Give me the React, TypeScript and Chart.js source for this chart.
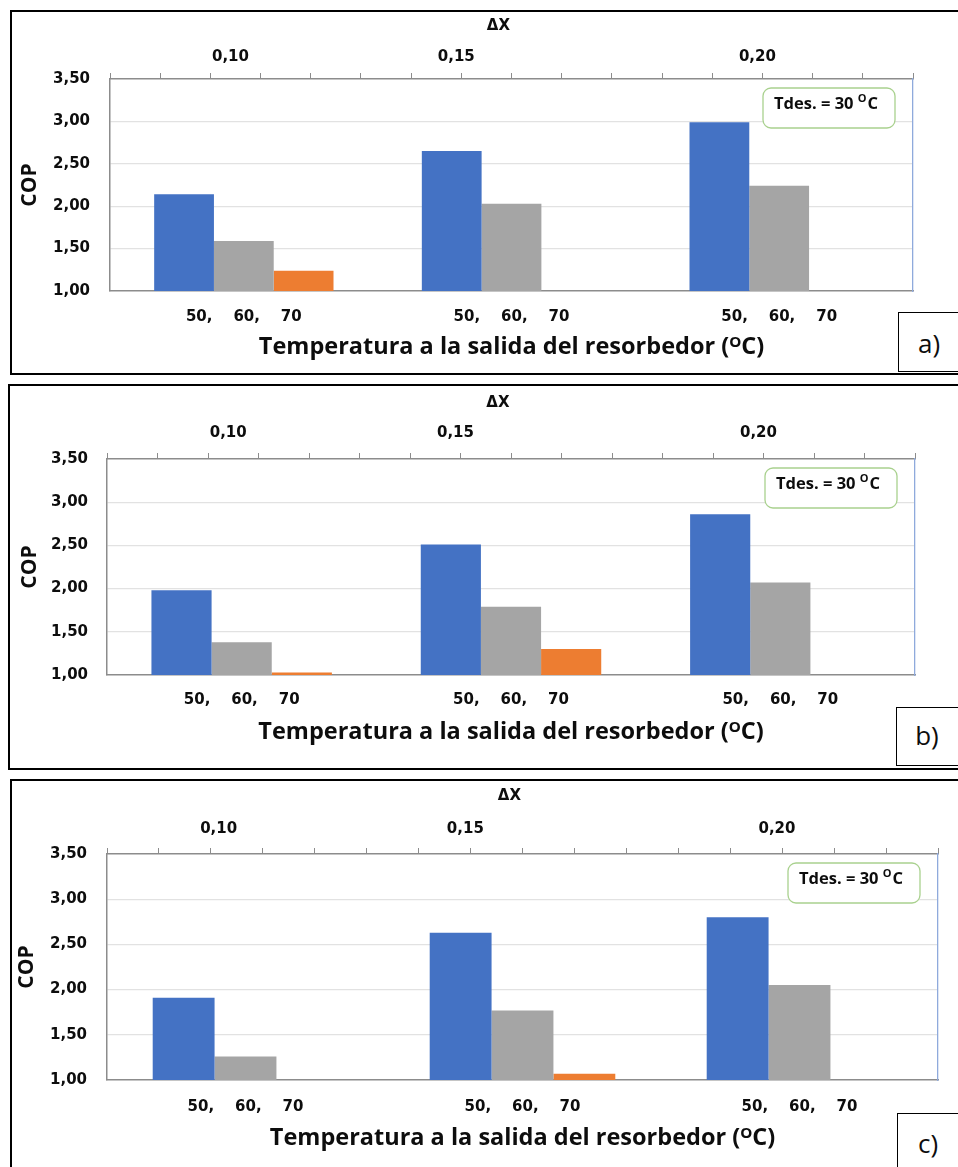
import { useEffect, useRef } from 'react';
import { Chart, registerables } from 'chart.js';

Chart.register(...registerables);

// Bottom category labels: resorber outlet temperatures inside each ΔX group
const groupLabels = ['50,    60,    70', '50,    60,    70', '50,    60,    70'];
// Top (secondary) axis labels: concentration difference ΔX
const deltaXLabels = ['0,10', '0,15', '0,20'];
const seriesNames = ['50', '60', '70'];
const seriesColors = ['#4472C4', '#A5A5A5', '#ED7D31'];

// COP, panel a)
const copA50 = [2.14, 2.65, 2.99];
const copA60 = [1.59, 2.03, 2.24];
const copA70 = [1.24, null, null];
// COP, panel b)
const copB50 = [1.98, 2.51, 2.86];
const copB60 = [1.38, 1.79, 2.07];
const copB70 = [1.03, 1.3, null];
// COP, panel c)
const copC50 = [1.91, 2.63, 2.8];
const copC60 = [1.26, 1.77, 2.05];
const copC70 = [null, 1.07, null];

// Where the ΔX labels sit on the 16-division top scale
const deltaXPosAB = [2.4, 6.9, 12.9];
const deltaXPosC = [2.15, 6.9, 12.9];
const topDivisions = Array.from({ length: 17 }, (_, i) => i);

const yMin = 1;
const yMax = 3.5;
const yStep = 0.5;

const noteMain = 'Tdes. = 30 ';
const noteSup = 'O';
const noteUnit = 'C';

const xTitle = 'Temperatura a la salida del resorbedor (ᴼC)';
const yTitle = 'COP';
const topTitle = 'ΔX';

const SANS = '"Open Sans", "Noto Sans", sans-serif';
const TICK_FONT = { family: '"DejaVu Sans", Verdana, sans-serif', size: 15, weight: 'bold' as const, lineHeight: 1.2 };
const TITLE_FONT = { family: SANS, size: 23.5, weight: 'bold' as const, lineHeight: 1.2 };
const COP_FONT = { family: SANS, size: 21, weight: 'bold' as const, lineHeight: 1.2 };
const TEXT = '#0d0d0d';
const AXIS = '#8c8c8c';
const GRID = '#e2e2e2';

type Geometry = {
  top: number;
  height: number;
  plotLeft: number;
  plotRight: number;
  plotTop: number;
  plotBottom: number;
  deltaY: number;
  topLabelY: number;
  yLabelRight: number;
  copX: number;
  bottomLabelY: number;
  titleY: number;
};

type PanelSpec = {
  tag: string;
  s50: (number | null)[];
  s60: (number | null)[];
  s70: (number | null)[];
  deltaPos: number[];
  geo: Geometry;
  border: { left: number; top: number; height: number };
  tagBox: { left: number; top: number; height: number; textY: number };
};

const panels: PanelSpec[] = [
  {
    tag: 'a)',
    s50: copA50,
    s60: copA60,
    s70: copA70,
    deltaPos: deltaXPosAB,
    geo: { top: 10, height: 365, plotLeft: 110, plotRight: 913, plotTop: 79, plotBottom: 291, deltaY: 26, topLabelY: 57, yLabelRight: 90, copX: 30, bottomLabelY: 317, titleY: 347 },
    border: { left: 10, top: 10, height: 365 },
    tagBox: { left: 898, top: 312, height: 60, textY: 343 },
  },
  {
    tag: 'b)',
    s50: copB50,
    s60: copB60,
    s70: copB70,
    deltaPos: deltaXPosAB,
    geo: { top: 385, height: 384, plotLeft: 107, plotRight: 915, plotTop: 459, plotBottom: 675, deltaY: 403, topLabelY: 433, yLabelRight: 88, copX: 30, bottomLabelY: 700, titleY: 732 },
    border: { left: 8, top: 384, height: 386 },
    tagBox: { left: 896, top: 707, height: 59, textY: 735 },
  },
  {
    tag: 'c)',
    s50: copC50,
    s60: copC60,
    s70: copC70,
    deltaPos: deltaXPosC,
    geo: { top: 779, height: 388, plotLeft: 107, plotRight: 938, plotTop: 854, plotBottom: 1080, deltaY: 796, topLabelY: 829, yLabelRight: 87, copX: 27, bottomLabelY: 1107, titleY: 1138 },
    border: { left: 10, top: 779, height: 400 },
    tagBox: { left: 897, top: 1113, height: 70, textY: 1143 },
  },
];

// Rounded green note box in the upper-right corner of the plot
const noteBoxPlugin = {
  id: 'noteBox',
  afterDraw(chart: Chart) {
    const { ctx, chartArea } = chart;
    const w = 132;
    const h = 40;
    const x = chartArea.right - 18 - w;
    const y = chartArea.top + 9;
    ctx.save();
    ctx.beginPath();
    ctx.roundRect(x, y, w, h, 8);
    ctx.fillStyle = '#ffffff';
    ctx.fill();
    ctx.lineWidth = 1.3;
    ctx.strokeStyle = '#a9d18e';
    ctx.stroke();
    ctx.fillStyle = TEXT;
    ctx.textBaseline = 'middle';
    ctx.textAlign = 'left';
    let tx = x + 11;
    const ty = y + 16;
    ctx.font = `bold 16.5px ${SANS}`;
    ctx.fillText(noteMain, tx, ty);
    tx += ctx.measureText(noteMain).width;
    ctx.font = `bold 11px ${SANS}`;
    ctx.fillText(noteSup, tx, ty - 5);
    tx += ctx.measureText(noteSup).width + 1;
    ctx.font = `bold 16.5px ${SANS}`;
    ctx.fillText(noteUnit, tx, ty);
    ctx.restore();
  },
};

function buildConfig(p: PanelSpec): any {
  const g = p.geo;
  const topLabelAxisH = g.plotTop - g.top - 6;
  const tickLH = TICK_FONT.size * TICK_FONT.lineHeight;
  const titleLH = TITLE_FONT.size * TITLE_FONT.lineHeight;
  const copLH = COP_FONT.size * COP_FONT.lineHeight;
  const bottomH = g.top + g.height - g.plotBottom;
  const yAxisW = g.plotLeft - 10;

  return {
    type: 'bar',
    data: {
      labels: groupLabels,
      datasets: [p.s50, p.s60, p.s70].map((d, i) => ({
        label: seriesNames[i],
        data: d,
        backgroundColor: seriesColors[i],
        borderWidth: 0,
        barPercentage: 1,
        categoryPercentage: 0.67,
      })),
    },
    options: {
      animation: false,
      responsive: false,
      devicePixelRatio: 1,
      layout: { padding: { left: 10, right: 958 - g.plotRight, top: 0, bottom: 0 } },
      plugins: { legend: { display: false }, tooltip: { enabled: false } },
      scales: {
        x: {
          type: 'category',
          position: 'bottom',
          grid: { display: false, drawTicks: false },
          border: { display: true, color: AXIS, width: 1.5 },
          ticks: { font: TICK_FONT, color: TEXT, padding: g.bottomLabelY - g.plotBottom - tickLH / 2, maxRotation: 0, autoSkip: false },
          title: {
            display: true,
            text: xTitle,
            font: TITLE_FONT,
            color: TEXT,
            padding: { top: 0, bottom: g.top + g.height - titleLH / 2 - g.titleY },
          },
          afterFit: (s: any) => {
            s.height = bottomH;
          },
        },
        xTop: {
          type: 'linear',
          position: 'top',
          weight: 10,
          offset: false,
          min: 0,
          max: 16,
          afterBuildTicks: (s: any) => {
            s.ticks = p.deltaPos.map((v) => ({ value: v }));
          },
          grid: { display: false, drawTicks: false, offset: false },
          border: { display: false },
          ticks: {
            font: TICK_FONT,
            color: TEXT,
            padding: g.plotTop - 6 - tickLH / 2 - g.topLabelY,
            maxRotation: 0,
            autoSkip: false,
            callback: (_v: any, i: number) => deltaXLabels[i],
          },
          title: {
            display: true,
            text: topTitle + '     ',
            font: { ...TICK_FONT },
            color: TEXT,
            padding: { top: g.deltaY - g.top - tickLH / 2, bottom: 0 },
          },
          afterFit: (s: any) => {
            s.height = topLabelAxisH;
          },
        },
        xDiv: {
          type: 'linear',
          position: 'top',
          weight: 0,
          offset: false,
          min: 0,
          max: 16,
          afterBuildTicks: (s: any) => {
            s.ticks = topDivisions.map((v) => ({ value: v }));
          },
          grid: { display: true, offset: false, drawOnChartArea: false, drawTicks: true, tickLength: 6, color: AXIS, lineWidth: 1 },
          border: { display: true, color: AXIS, width: 1.5 },
          ticks: { display: false },
          afterFit: (s: any) => {
            s.height = 6;
          },
        },
        y: {
          type: 'linear',
          position: 'left',
          min: yMin,
          max: yMax,
          grid: {
            drawTicks: false,
            color: (c: any) => (c.tick && (c.tick.value === yMin || c.tick.value === yMax) ? 'rgba(0,0,0,0)' : GRID),
            lineWidth: 1.3,
          },
          border: { display: true, color: AXIS, width: 1.5 },
          ticks: {
            stepSize: yStep,
            font: TICK_FONT,
            color: TEXT,
            padding: g.plotLeft - g.yLabelRight,
            callback: (v: any) => Number(v).toFixed(2).replace('.', ','),
          },
          title: {
            display: true,
            text: yTitle,
            font: COP_FONT,
            color: TEXT,
            padding: { top: g.copX - 10 - copLH / 2, bottom: 0 },
          },
          afterFit: (s: any) => {
            s.width = yAxisW;
          },
        },
        yRight: {
          type: 'linear',
          position: 'right',
          grid: { display: false, drawTicks: false },
          border: { display: true, color: '#8faadc', width: 1.3 },
          ticks: { display: false },
          afterFit: (s: any) => {
            s.width = 0;
          },
        },
      },
    },
    plugins: [noteBoxPlugin],
  };
}

function Panel({ spec }: { spec: PanelSpec }) {
  const ref = useRef<HTMLCanvasElement | null>(null);
  useEffect(() => {
    if (!ref.current) return;
    const chart = new Chart(ref.current, buildConfig(spec));
    return () => chart.destroy();
  }, [spec]);
  const g = spec.geo;
  return (
    <>
      <canvas
        ref={ref}
        width={958}
        height={g.height}
        style={{ position: 'absolute', left: 0, top: g.top, width: 958, height: g.height, display: 'block' }}
      />
      <div
        style={{
          position: 'absolute',
          left: spec.border.left,
          top: spec.border.top,
          width: 1000,
          height: spec.border.height,
          border: '2px solid #000',
          boxSizing: 'border-box',
          pointerEvents: 'none',
        }}
      />
      <div
        style={{
          position: 'absolute',
          left: spec.tagBox.left,
          top: spec.tagBox.top,
          width: 100,
          height: spec.tagBox.height,
          border: '1.5px solid #000',
          boxSizing: 'border-box',
          background: '#fff',
        }}
      />
      <div
        style={{
          position: 'absolute',
          left: spec.tagBox.left + 1,
          top: spec.tagBox.textY - 20,
          width: 60,
          height: 40,
          lineHeight: '40px',
          textAlign: 'center',
          fontFamily: SANS,
          fontSize: 26,
          color: TEXT,
        }}
      >
        {spec.tag}
      </div>
    </>
  );
}

export default function App() {
  return (
    <div style={{ position: 'absolute', left: 0, top: 0, width: 958, height: 1167, overflow: 'hidden', background: '#fff' }}>
      {panels.map((p) => (
        <Panel key={p.tag} spec={p} />
      ))}
    </div>
  );
}
